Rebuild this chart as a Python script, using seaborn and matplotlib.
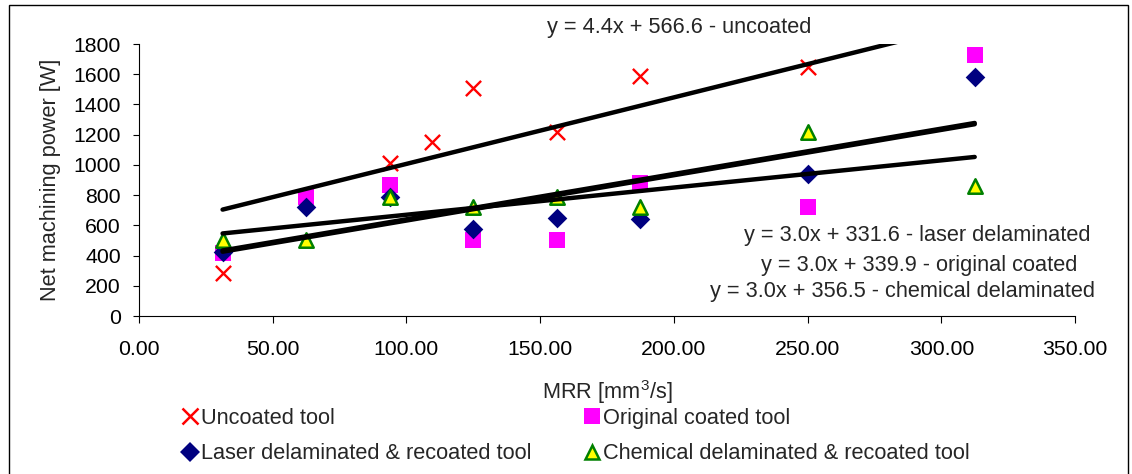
import numpy as np
import matplotlib
matplotlib.use("Agg")
import matplotlib.pyplot as plt
from matplotlib.lines import Line2D
from matplotlib.patches import Rectangle
import seaborn as sns

# Measured net machining power against material removal rate
mrr_uncoated = [31.25, 93.75, 109.375, 125.0, 156.25, 187.5, 250.0]
power_uncoated = [287, 1010, 1150, 1510, 1220, 1585, 1650]

mrr_coated = [31.25, 62.5, 93.75, 125.0, 156.25, 187.5, 250.0, 312.5]
power_original = [420, 790, 867, 503, 503, 878, 719, 1727]
power_laser = [425, 720, 790, 575, 650, 645, 938, 1584]
power_chemical = [500, 500, 790, 720, 790, 720, 1220, 862]

series_names = [
    "Uncoated tool",
    "Laser delaminated & recoated tool",
    "Original coated tool",
    "Chemical delaminated & recoated tool",
]

# Linear trend lines (uncoated, laser, original, chemical)
trend_slope = [4.4, 3.0, 3.0, 1.8]
trend_intercept = [566.6, 331.6, 339.9, 490.0]
trend_range = [31.25, 312.5]

equation_labels = [
    "y = 4.4x + 566.6 - uncoated",
    "y = 3.0x + 331.6 - laser delaminated",
    "y = 3.0x + 339.9 - original coated",
    "y = 3.0x + 356.5 - chemical delaminated",
]

x_ticks = [0, 50, 100, 150, 200, 250, 300, 350]
y_ticks = [0, 200, 400, 600, 800, 1000, 1200, 1400, 1600, 1800]

sns.set_style("white")
plt.rcParams["font.family"] = ["Liberation Sans", "DejaVu Sans"]
plt.rcParams["mathtext.fontset"] = "custom"
plt.rcParams["mathtext.rm"] = "Liberation Sans"

W, H = 1132, 474
fig = plt.figure(figsize=(W / 100, H / 100), dpi=100)


def px(x, y):
    return x / W, 1 - y / H


# outer chart frame
fig.patches.append(Rectangle((9 / W, -0.02), (1128 - 9) / W, 0.02 + 1 - 5 / H,
                             transform=fig.transFigure, fill=False,
                             edgecolor="#000000", linewidth=1.0))

ax = fig.add_axes([139 / W, (H - 316) / H, (1075 - 139) / W, (316 - 44) / H])

FS = 15.7
TICK_FS = 15.3

# scatter series
sns.scatterplot(x=mrr_uncoated, y=power_uncoated, marker="x", s=120,
                color="#FF0000", linewidth=1.7, ax=ax, zorder=3)
sns.scatterplot(x=mrr_coated, y=power_original, marker="s", s=125,
                color="#FF00FF", linewidth=0, ax=ax, zorder=3)
sns.scatterplot(x=mrr_coated, y=power_laser, marker="D", s=100,
                color="#000080", linewidth=0, ax=ax, zorder=3)
sns.scatterplot(x=mrr_coated, y=power_chemical, marker="^", s=108,
                color="#FFFF00", edgecolor="#008000", linewidth=1.8, ax=ax, zorder=3)

# trend lines
tx = np.array(trend_range)
for k, b in zip(trend_slope, trend_intercept):
    sns.lineplot(x=tx, y=k * tx + b, color="black", linewidth=3.2, ax=ax,
                 zorder=4, solid_capstyle="round")

ax.set_xlim(0, 350)
ax.set_ylim(0, 1800)
ax.set_xticks(x_ticks)
ax.set_xticklabels([f"{v:.2f}" for v in x_ticks])
ax.set_yticks(y_ticks)
ax.set_yticklabels([str(v) for v in y_ticks])
for side in ("top", "right"):
    ax.spines[side].set_visible(False)
for side in ("left", "bottom"):
    ax.spines[side].set_color("#000000")
    ax.spines[side].set_linewidth(0.8)
ax.tick_params(axis="both", direction="out", width=0.8, labelsize=TICK_FS,
               colors="#000000")
ax.tick_params(axis="x", length=5, bottom=True, pad=12)
ax.tick_params(axis="y", length=4, left=True, pad=9)
ax.grid(False)

ax.set_ylabel("Net machining power [W]", fontsize=FS)
ax.yaxis.set_label_coords((61 - 139) / (1075 - 139), 0.5)
ax.set_xlabel("MRR [mm$^3$/s]", fontsize=FS, va="center")
ax.xaxis.set_label_coords(0.5, (316 - 392) / (316 - 44))

# equation annotations
eq_pos = [(679.5, 28), (917.5, 235), (919.5, 265), (903, 292)]
for text, (x, y) in zip(equation_labels, eq_pos):
    fig.text(*px(x, y), text, fontsize=FS, ha="center", va="center")

# legend
handles = [
    Line2D([], [], linestyle="none", marker="x", markersize=11.5,
           markeredgewidth=1.8, color="#FF0000"),
    Line2D([], [], linestyle="none", marker="D", markersize=10,
           color="#000080", markeredgewidth=0),
    Line2D([], [], linestyle="none", marker="s", markersize=11.5,
           color="#FF00FF", markeredgewidth=0),
    Line2D([], [], linestyle="none", marker="^", markersize=10.4,
           markerfacecolor="#FFFF00", markeredgecolor="#008000",
           markeredgewidth=1.8),
]
fig.legend(handles, series_names, loc="upper left",
           bbox_to_anchor=px(181.7, 408), ncol=2, frameon=False,
           fontsize=FS, handlelength=0.8, handletextpad=0.1,
           columnspacing=2.36, labelspacing=0.66, borderpad=0,
           borderaxespad=0)

fig.savefig("out.png", dpi=100)
